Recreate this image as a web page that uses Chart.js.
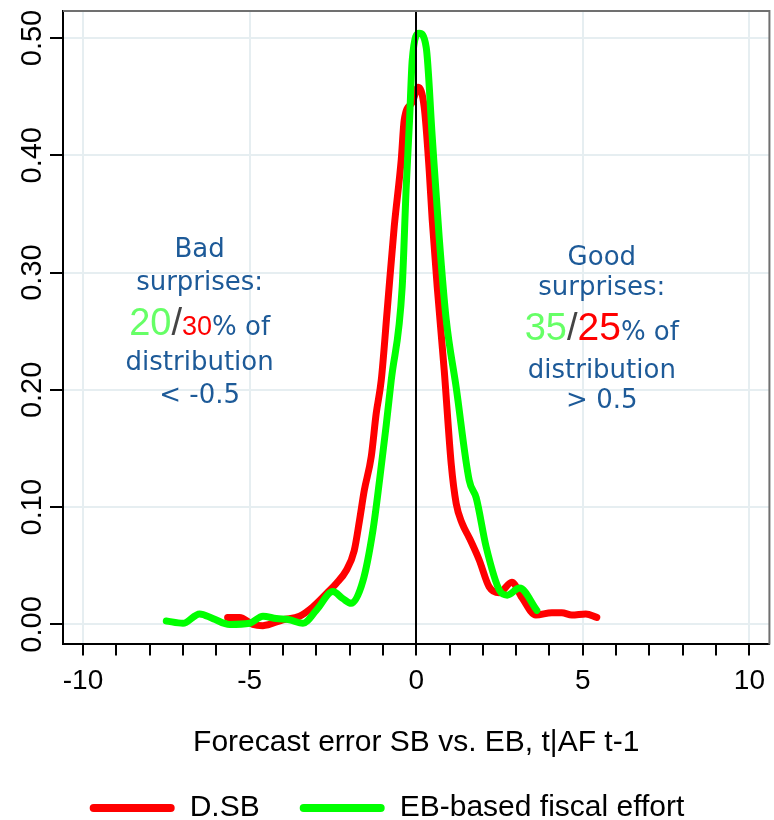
<!DOCTYPE html>
<html lang="en">
<head>
<meta charset="UTF-8">
<title>Forecast error density</title>
<script src="https://cdn.jsdelivr.net/npm/chart.js"></script>
<style>
    html, body { margin: 0; padding: 0; background: #fff; }
    #chartBox { width: 774px; height: 820px; }
</style>
</head>
<body>
<div id="chartBox"><canvas id="densityChart" width="774" height="820"></canvas></div>
<script>
// kernel density of the forecast error
var redX = [-5.66, -5.3, -4.9, -4.6, -4.0, -3.5, -3.1, -2.6, -2.4, -2.1, -1.86, -1.7, -1.56, -1.35, -1.2, -1.05,
    -0.87, -0.66, -0.45, -0.36, -0.12, 0.06, 0.24, 0.39, 0.48, 0.63, 0.84, 1.05, 1.2, 1.38, 1.59, 1.89,
    2.19, 2.49, 2.87, 3.17, 3.59, 4.07, 4.37, 4.67, 5.09, 5.42];
var redY = [0.006, 0.006, 0.0, -0.001, 0.004, 0.007, 0.015, 0.029, 0.035, 0.046, 0.063, 0.089, 0.114, 0.143, 0.18, 0.208,
    0.268, 0.339, 0.396, 0.43, 0.445, 0.458, 0.441, 0.387, 0.345, 0.288, 0.217, 0.137, 0.103, 0.086, 0.074, 0.055,
    0.032, 0.027, 0.036, 0.023, 0.008, 0.01, 0.01, 0.008, 0.009, 0.006];

var greenX = [-7.5, -7.0, -6.5, -6.1, -5.6, -5.0, -4.6, -4.2, -3.8, -3.4, -3.0, -2.5, -2.2, -1.95, -1.6, -1.3,
    -1.1, -0.9, -0.75, -0.42, -0.3, -0.2, -0.12, 0.09, 0.3, 0.48, 0.69, 0.9, 1.2, 1.59, 1.8, 2.1,
    2.5, 2.73, 3.1, 3.62];
var greenY = [0.003, 0.001, 0.009, 0.005, 0.0, 0.001, 0.007, 0.005, 0.004, 0.001, 0.012, 0.028, 0.022, 0.018, 0.037, 0.08,
    0.123, 0.17, 0.208, 0.288, 0.373, 0.43, 0.481, 0.504, 0.492, 0.416, 0.33, 0.26, 0.202, 0.123, 0.108, 0.066,
    0.029, 0.025, 0.031, 0.012];

var seriesNames = ['D.SB', 'EB-based fiscal effort'];
var xTicks = [-10, -9, -8, -7, -6, -5, -4, -3, -2, -1, 0, 1, 2, 3, 4, 5, 6, 7, 8, 9, 10];
var xLabelEvery = 5;
var yTicks = [0, 0.1, 0.2, 0.3, 0.4, 0.5];

function toPoints(xs, ys) {
    return xs.map(function(x, i) { return { x: x, y: ys[i] }; });
}

var tickFont = 'Liberation Sans, Arial, sans-serif';
var noteFont = 'DejaVu Sans, Verdana, sans-serif';
var noteBlue = '#1d5a98';

// text blocks on both sides of the peak
var notes = [
    { x: -6.5, lines: [
        { y: 0.313, parts: [['Bad', 26, noteBlue, noteFont]] },
        { y: 0.285, parts: [['surprises:', 26, noteBlue, noteFont]] },
        { y: 0.2466, parts: [['20', 38, '#66ff66', tickFont], ['/', 38, '#444', tickFont], ['30', 27, '#ff0000', tickFont], ['% of', 26, noteBlue, noteFont]] },
        { y: 0.2167, parts: [['distribution', 26, noteBlue, noteFont]] },
        { y: 0.1886, parts: [['< -0.5', 26, noteBlue, noteFont]] }
    ]},
    { x: 5.57, lines: [
        { y: 0.3063, parts: [['Good', 26, noteBlue, noteFont]] },
        { y: 0.2807, parts: [['surprises:', 26, noteBlue, noteFont]] },
        { y: 0.2423, parts: [['35', 38, '#66ff66', tickFont], ['/', 38, '#444', tickFont], ['25', 39, '#ff0000', tickFont], ['% of', 26, noteBlue, noteFont]] },
        { y: 0.2099, parts: [['distribution', 26, noteBlue, noteFont]] },
        { y: 0.1843, parts: [['> 0.5', 26, noteBlue, noteFont]] }
    ]}
];

var extras = {
    id: 'extras',
    afterDatasetsDraw: function(chart) {
        var ctx = chart.ctx, a = chart.chartArea;
        var xs = chart.scales.x;
        ctx.save();
        // zero line
        var x0 = Math.round(xs.getPixelForValue(0));
        ctx.strokeStyle = '#000';
        ctx.lineWidth = 2;
        ctx.beginPath();
        ctx.moveTo(x0, a.top);
        ctx.lineTo(x0, a.bottom);
        ctx.stroke();
        // top and right frame
        ctx.strokeStyle = '#707070';
        ctx.beginPath();
        ctx.moveTo(a.left, a.top);
        ctx.lineTo(a.right, a.top);
        ctx.lineTo(a.right, a.bottom);
        ctx.stroke();
        ctx.restore();
    },
    afterDraw: function(chart) {
        var ctx = chart.ctx;
        var xs = chart.scales.x, ys = chart.scales.y;
        ctx.save();
        // rotated y labels
        ctx.fillStyle = '#000';
        ctx.font = '29px ' + tickFont;
        ctx.textAlign = 'center';
        ctx.textBaseline = 'alphabetic';
        yTicks.forEach(function(v) {
            var py = ys.getPixelForValue(v);
            ctx.save();
            ctx.translate(41, py);
            ctx.rotate(-Math.PI / 2);
            ctx.fillText(v.toFixed(2), 0, 0);
            ctx.restore();
        });
        // notes
        ctx.textAlign = 'left';
        notes.forEach(function(block) {
            var cx = xs.getPixelForValue(block.x);
            block.lines.forEach(function(line) {
                var w = 0;
                line.parts.forEach(function(p) {
                    ctx.font = p[1] + 'px ' + p[3];
                    w += ctx.measureText(p[0]).width;
                });
                var px = cx - w / 2;
                var py = ys.getPixelForValue(line.y);
                line.parts.forEach(function(p) {
                    ctx.font = p[1] + 'px ' + p[3];
                    ctx.fillStyle = p[2];
                    ctx.fillText(p[0], px, py);
                    px += ctx.measureText(p[0]).width;
                });
            });
        });
        ctx.restore();
    }
};

var ctx = document.getElementById('densityChart').getContext('2d');
var densityChart = new Chart(ctx, {
    type: 'scatter',
    data: {
        datasets: [{
            label: seriesNames[0],
            data: toPoints(redX, redY),
            borderColor: '#ff0000',
            backgroundColor: '#ff0000',
            borderWidth: 7,
            order: 2
        }, {
            label: seriesNames[1],
            data: toPoints(greenX, greenY),
            borderColor: '#00ff00',
            backgroundColor: '#00ff00',
            borderWidth: 7,
            order: 1
        }]
    },
    options: {
        responsive: false,
        animation: false,
        showLine: true,
        layout: { padding: { top: 11, right: 0, left: 0, bottom: -13 } },
        elements: {
            point: { radius: 0, hoverRadius: 0 },
            line: { cubicInterpolationMode: 'monotone', borderCapStyle: 'round', borderJoinStyle: 'round' }
        },
        scales: {
            x: {
                type: 'linear',
                min: -10.6,
                max: 10.6,
                afterBuildTicks: function(s) { s.ticks = xTicks.map(function(v) { return { value: v }; }); },
                ticks: {
                    autoSkip: false,
                    maxRotation: 0,
                    padding: 9,
                    color: '#000',
                    font: { family: tickFont, size: 28 },
                    callback: function(v) { return v % xLabelEvery === 0 ? String(v) : ''; }
                },
                grid: {
                    color: function(c) {
                        return (c.tick && c.tick.value % 5 === 0 && c.tick.value !== 0) ? '#e6eef1' : 'rgba(0,0,0,0)';
                    },
                    lineWidth: 2,
                    tickColor: '#000',
                    tickLength: 11,
                    tickWidth: 2
                },
                border: { color: '#000', width: 2 },
                title: {
                    display: true,
                    text: 'Forecast error SB vs. EB, t|AF t-1',
                    color: '#000',
                    font: { family: tickFont, size: 30 },
                    padding: { top: 18, bottom: -8 }
                }
            },
            y: {
                min: -0.017,
                max: 0.523,
                afterBuildTicks: function(s) { s.ticks = yTicks.map(function(v) { return { value: v }; }); },
                afterFit: function(s) { s.width = 63; },
                ticks: { callback: function() { return ''; } },
                grid: {
                    color: '#e6eef1',
                    lineWidth: 2,
                    tickColor: '#000',
                    tickLength: 13,
                    tickWidth: 2
                },
                border: { color: '#000', width: 2 }
            }
        },
        plugins: {
            tooltip: { enabled: false },
            legend: {
                position: 'bottom',
                labels: {
                    boxWidth: 85,
                    boxHeight: 8,
                    padding: 40,
                    color: '#000',
                    useBorderRadius: true,
                    borderRadius: 4,
                    font: { family: tickFont, size: 30 },
                    sort: function(a, b) { return a.datasetIndex - b.datasetIndex; },
                    generateLabels: function(chart) {
                        var items = Chart.defaults.plugins.legend.labels.generateLabels(chart);
                        items.forEach(function(it) { it.lineWidth = 0; });
                        return items;
                    }
                }
            }
        }
    },
    plugins: [extras]
});
</script>
</body>
</html>
